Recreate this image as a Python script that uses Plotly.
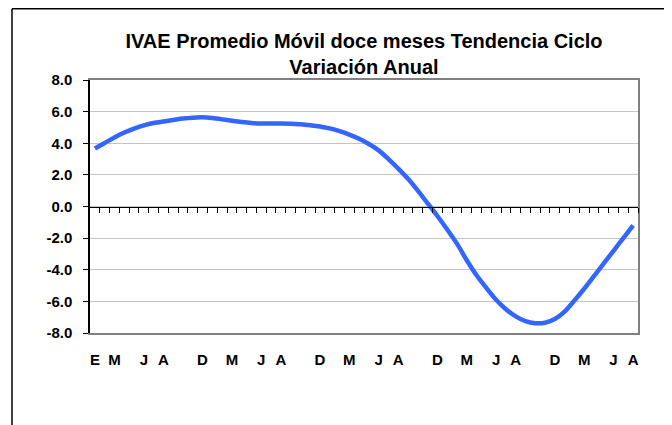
import plotly.graph_objects as go

# Data: monthly 12-month moving average, trend-cycle, annual variation (%)
month_index = list(range(56))
values = [3.67, 4.02, 4.37, 4.68, 4.93, 5.13, 5.28, 5.38, 5.47, 5.56,
          5.62, 5.64, 5.59, 5.51, 5.42, 5.34, 5.28, 5.25, 5.25, 5.25,
          5.24, 5.20, 5.14, 5.06, 4.94, 4.77, 4.55, 4.28, 3.95, 3.55,
          3.00, 2.40, 1.75, 1.00, 0.20, -0.60, -1.45, -2.35, -3.40, -4.35,
          -5.15, -5.90, -6.50, -6.95, -7.25, -7.38, -7.35, -7.12, -6.65, -5.95,
          -5.20, -4.40, -3.60, -2.80, -2.00, -1.20]

x_tick_pos = [0, 2, 5, 7, 11, 14, 17, 19, 23, 26, 29, 31, 35, 38, 41, 43, 47, 50, 53, 55]
x_tick_text = ["E", "M", "J", "A", "D", "M", "J", "A", "D", "M", "J", "A",
               "D", "M", "J", "A", "D", "M", "J", "A"]
y_tick_vals = [-8, -6, -4, -2, 0, 2, 4, 6, 8]
y_tick_text = ["-8.0", "-6.0", "-4.0", "-2.0", "0.0", "2.0", "4.0", "6.0", "8.0"]

title_text = "IVAE Promedio Móvil doce meses Tendencia Ciclo<br>Variación Anual"

FONT = "Liberation Sans, Arial, sans-serif"
n = len(month_index)
x_range = [-0.5, n - 0.5]
boundaries = [i + 0.5 for i in range(n)]

W, H = 664, 417          # page body adds an 8px offset
L, T = 82, 72
PW, PH = 548, 253
R, B = W - L - PW, H - T - PH

fig = go.Figure()
fig.add_trace(go.Scatter(
    x=month_index, y=values, mode="lines",
    line=dict(color="#3366FF", width=4.5, shape="spline", smoothing=0.8),
    hoverinfo="skip", showlegend=False,
))
# invisible helper traces so the secondary axes render
fig.add_trace(go.Scatter(x=[month_index[0]], y=[values[0]], xaxis="x2", yaxis="y",
                         mode="markers", marker=dict(opacity=0), showlegend=False, hoverinfo="skip"))
fig.add_trace(go.Scatter(x=[month_index[0]], y=[values[0]], xaxis="x", yaxis="y2",
                         mode="markers", marker=dict(opacity=0), showlegend=False, hoverinfo="skip"))

frame_left = -(L - 4) / PW
frame_right = (W - L) / PW
frame_top = 1 + (T - 0.75) / PH
frame_bottom = -B / PH

fig.update_layout(
    width=W, height=H,
    margin=dict(l=L, r=R, t=T, b=B),
    paper_bgcolor="white", plot_bgcolor="white",
    title=dict(text=title_text, x=0.5, xref="paper", xanchor="center",
               y=1 - 40 / H, yref="container", yanchor="middle",
               font=dict(family=FONT, size=20, color="black", weight="bold")),
    xaxis=dict(range=x_range, showgrid=False, zeroline=False,
               tickvals=x_tick_pos, ticktext=x_tick_text,
               ticks="outside", ticklen=12, tickcolor="rgba(0,0,0,0)",
               tickfont=dict(family=FONT, size=15, color="black", weight="bold"),
               showline=True, linecolor="#808080", linewidth=2, mirror=True),
    xaxis2=dict(range=x_range, overlaying="x", anchor="free", position=0.5,
                side="bottom", showgrid=False, zeroline=False,
                showline=True, linecolor="black", linewidth=1,
                tickvals=boundaries, ticks="outside", ticklen=5,
                tickcolor="black", tickwidth=1, showticklabels=False),
    yaxis=dict(range=[-8, 8], tickvals=y_tick_vals, ticktext=y_tick_text,
               showgrid=True, gridcolor="#C4C4C4", gridwidth=1, zeroline=False,
               ticks="outside", ticklen=5, tickcolor="black",
               ticklabelstandoff=8,
               tickfont=dict(family=FONT, size=15, color="black", weight="bold"),
               showline=True, linecolor="black", linewidth=1.5),
    yaxis2=dict(range=[-8, 8], overlaying="y", side="right", showgrid=False,
                zeroline=False, showticklabels=False, ticks="",
                showline=True, linecolor="#808080", linewidth=2),
    shapes=[
        dict(type="line", xref="paper", yref="paper",
             x0=frame_left, x1=frame_right, y0=frame_top, y1=frame_top,
             line=dict(color="black", width=1.5), layer="above"),
        dict(type="line", xref="paper", yref="paper",
             x0=frame_left, x1=frame_left, y0=frame_bottom, y1=frame_top,
             line=dict(color="black", width=1.5), layer="above"),
    ],
)

fig.write_html("out.html")
